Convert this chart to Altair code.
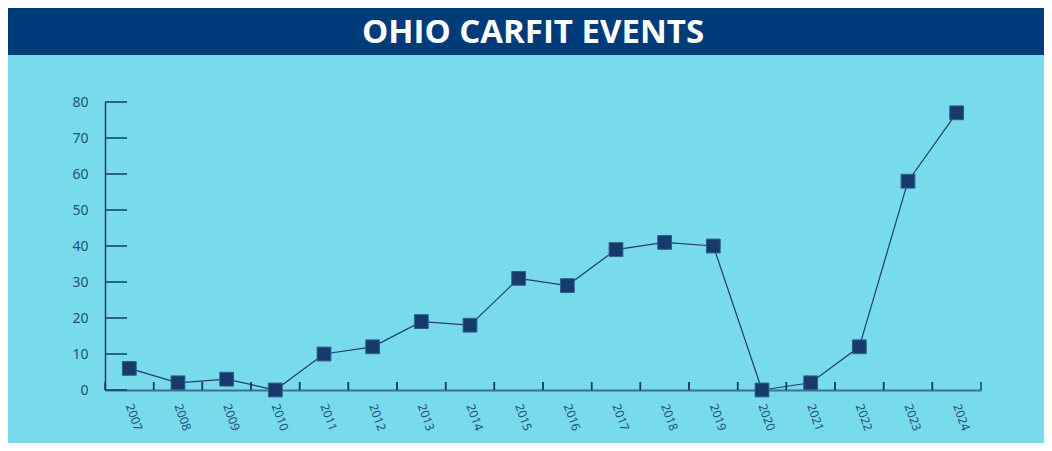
import altair as alt
import pandas as pd

years = ["2007", "2008", "2009", "2010", "2011", "2012", "2013", "2014", "2015",
         "2016", "2017", "2018", "2019", "2020", "2021", "2022", "2023", "2024"]
events = [6, 2, 3, 0, 10, 12, 19, 18, 31, 29, 39, 41, 40, 0, 2, 12, 58, 77]
y_ticks = [0, 10, 20, 30, 40, 50, 60, 70, 80]
title_text = "OHIO CARFIT EVENTS"

W, H = 876, 288
PL, PT, PR, PB = 97, 94, 63, 53

df = pd.DataFrame({"year": years, "events": events})
tdf = pd.DataFrame({"v": y_ticks})
hdf = pd.DataFrame({"t": [title_text]})

xscale = alt.Scale(type="band", paddingInner=0, paddingOuter=0)
yscale = alt.Scale(domain=[0, 80], nice=False)

NAVY = "#173a6d"
LABEL = "#21507c"

x_axis = alt.Axis(
    title=None, ticks=False, domainColor="#3d6f96", domainWidth=2,
    labelAngle=70, labelAlign="left", labelBaseline="middle",
    labelColor=LABEL, labelFontSize=12, labelFont="Noto Sans",
    labelPadding=14, grid=False,
)
y_axis = alt.Axis(
    title=None, ticks=False, domainColor=NAVY, domainWidth=1.5,
    labelColor=LABEL, labelFontSize=14, labelFont="Noto Sans",
    labelPadding=17, values=y_ticks, grid=False,
)

base = alt.Chart(df)

header = alt.Chart(hdf).mark_rect(color="#003b7a", clip=False).encode(
    x=alt.value(-PL), x2=alt.value(W + PR), y=alt.value(-PT), y2=alt.value(-PT + 47)
)
header_text = alt.Chart(hdf).mark_text(
    color="white", font="Open Sans", fontWeight="bold", fontSize=33,
    align="center", baseline="middle", clip=False
).encode(text="t:N", x=alt.value(428), y=alt.value(-PT + 25))

line = base.mark_line(color="#1f3d6b", strokeWidth=1.2).encode(
    x=alt.X("year:N", scale=xscale, axis=x_axis, bandPosition=0.5),
    y=alt.Y("events:Q", scale=yscale, axis=y_axis),
)
pts = base.mark_square(size=190, color=NAVY, opacity=1, stroke="#2f5f8c", strokeWidth=1).encode(
    x=alt.X("year:N", scale=xscale, axis=x_axis, bandPosition=0.5),
    y=alt.Y("events:Q", scale=yscale, axis=y_axis),
)
yt = alt.Chart(tdf).mark_rule(color=NAVY, strokeWidth=1.5).encode(
    y=alt.Y("v:Q", scale=yscale, axis=y_axis), x=alt.value(0), x2=alt.value(22)
)
xt0 = base.mark_rule(color=NAVY, strokeWidth=1.5).encode(
    x=alt.X("year:N", scale=xscale, axis=x_axis, bandPosition=0),
    y=alt.value(H - 8), y2=alt.value(H),
)
xt1 = base.mark_rule(color=NAVY, strokeWidth=1.5).encode(
    x=alt.X("year:N", scale=xscale, axis=x_axis, bandPosition=1),
    y=alt.value(H - 8), y2=alt.value(H),
)

chart = alt.layer(header, header_text, line, pts, yt, xt0, xt1).properties(
    width=W, height=H,
    autosize=alt.AutoSizeParams(type="none"),
    padding={"left": PL, "top": PT, "right": PR, "bottom": PB},
    background="#78dbeb",
).configure_view(stroke=None)

chart.save("out.html", embed_options={"renderer": "svg", "actions": False})
